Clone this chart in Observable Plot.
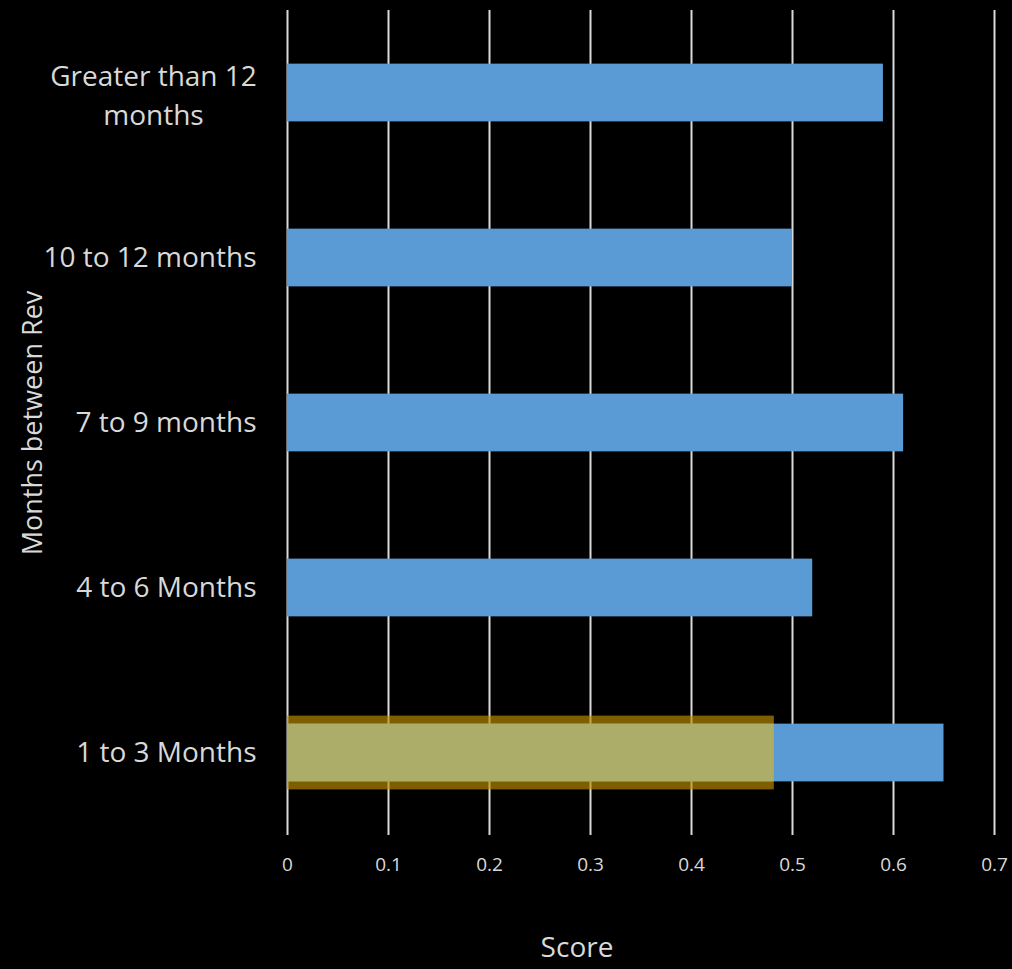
<!DOCTYPE html>
<html>
<head>
<meta charset="utf-8">
<script src="https://cdn.jsdelivr.net/npm/d3@7"></script>
<script src="https://cdn.jsdelivr.net/npm/@observablehq/plot@0.6"></script>
<style>
  html, body { margin: 0; padding: 0; background: #000; }
  #chart { width: 1012px; height: 969px; }
</style>
</head>
<body>
<div id="chart"></div>
<script>
const categories = ["1 to 3 Months", "4 to 6 Months", "7 to 9 months", "10 to 12 months", "Greater than 12 months"];
const scores = [0.65, 0.52, 0.61, 0.50, 0.59];
const highlightCategories = ["1 to 3 Months"];
const highlightScores = [0.482];
const xTicks = [0, 0.1, 0.2, 0.3, 0.4, 0.5, 0.6, 0.7];
const xTitle = "Score";
const yTitle = "Months between Rev";
const wrappedLabel = {"Greater than 12 months": "Greater than 12\nmonths"};

const data = categories.map((c, i) => ({cat: c, score: scores[i]}));
const hl = highlightCategories.map((c, i) => ({cat: c, score: highlightScores[i]}));

const font = "Open Sans, Lato, sans-serif";

const chart = Plot.plot({
  width: 1012,
  height: 969,
  marginLeft: 287,
  marginRight: 18,
  marginTop: 10,
  marginBottom: 134,
  style: {background: "#000", color: "#d9d9d9", fontFamily: font},
  x: {domain: [0, 0.7], ticks: xTicks},
  y: {domain: categories.slice().reverse(), paddingInner: 0.65, paddingOuter: 0.325, round: false},
  marks: [
    Plot.ruleX(xTicks, {stroke: "#d9d9d9", strokeWidth: 2}),
    Plot.barX(data, {x: "score", y: "cat", fill: "#5b9bd5"}),
    Plot.barX(hl, {x: "score", y: "cat", fill: "#bf9000", fillOpacity: 0.66, insetTop: -8, insetBottom: -8}),
    Plot.barX(hl, {x: "score", y: "cat", fill: "#adad6a"}),
    Plot.axisX({ticks: xTicks, tickSize: 0, tickPadding: 22, fontSize: 19, tickFormat: d => String(d), label: null}),
    Plot.axisY({ticks: categories.filter(c => !wrappedLabel[c]), tickSize: 0, tickPadding: 31, fontSize: 28, label: null}),
    Plot.text(Object.keys(wrappedLabel), {y: d => d, text: d => wrappedLabel[d], frameAnchor: "left", dx: -134, textAnchor: "middle", fontSize: 28, lineHeight: 1.38, fill: "#d9d9d9"}),
    Plot.text([xTitle], {text: d => d, frameAnchor: "bottom", dx: -64, dy: 121, fontSize: 28, textAnchor: "middle", fill: "#d9d9d9"}),
    Plot.text([yTitle], {text: d => d, frameAnchor: "left", rotate: -90, dx: -254, fontSize: 27, textAnchor: "middle", fill: "#d9d9d9"})
  ]
});
document.getElementById("chart").appendChild(chart);
</script>
</body>
</html>
